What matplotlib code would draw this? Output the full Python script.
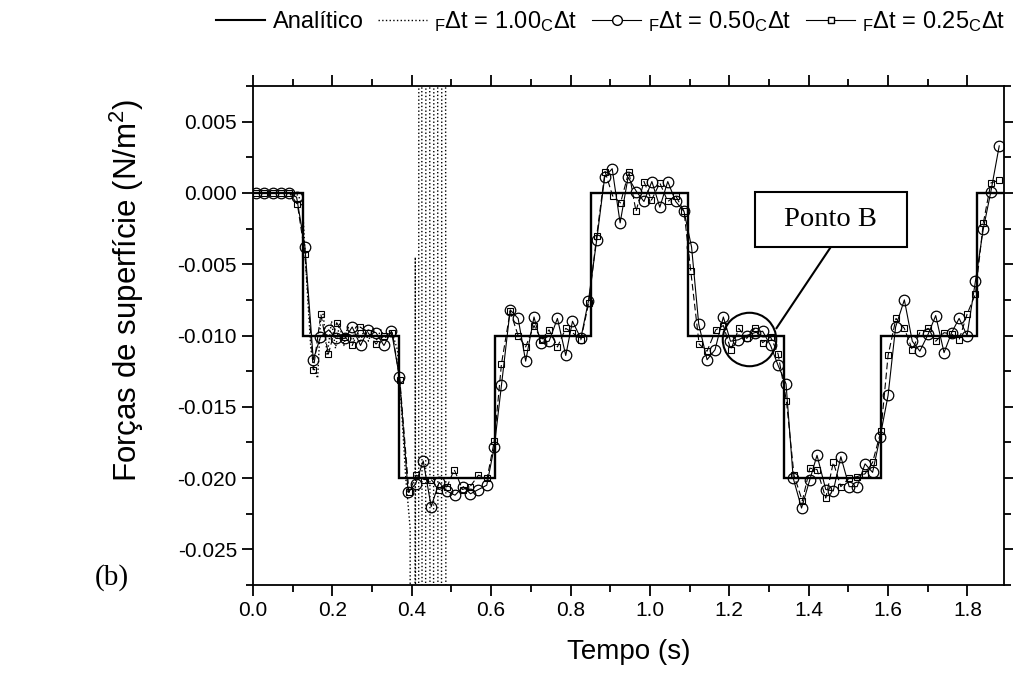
import numpy as np
import matplotlib
matplotlib.use("Agg")
import matplotlib.pyplot as plt
from matplotlib.lines import Line2D
from matplotlib.patches import Rectangle
from matplotlib.ticker import MultipleLocator, FuncFormatter

plt.rcParams["font.family"] = ["Liberation Sans", "DejaVu Sans"]
plt.rcParams["mathtext.fontset"] = "custom"
plt.rcParams["mathtext.rm"] = "Liberation Sans"
plt.rcParams["mathtext.it"] = "Liberation Sans:italic"
plt.rcParams["mathtext.default"] = "regular"

# analytic solution: piecewise constant (N/m2)
STEP_EDGES = [0.0, 0.125, 0.368, 0.610, 0.852, 1.097, 1.338, 1.582, 1.825, 1.892]
STEP_LEVELS = [0.0, -0.010, -0.020, -0.010, 0.0, -0.010, -0.020, -0.010, 0.0]

# F_dt = 1.00 C_dt (unstable), values in 1e-3 N/m2
T_100 = [0.000, 0.021, 0.042, 0.063, 0.083, 0.104, 0.115, 0.125, 0.135, 0.146,
         0.156, 0.163, 0.170, 0.177, 0.187, 0.198, 0.208, 0.218, 0.229, 0.239,
         0.250, 0.260, 0.270, 0.281, 0.291, 0.302, 0.312, 0.322, 0.333, 0.343,
         0.354, 0.364, 0.374, 0.385, 0.396, 0.403, 0.409, 0.415, 0.4205, 0.4305,
         0.4405, 0.4505, 0.4605, 0.4705, 0.4805, 0.4905]
F_100 = [0.0, 0.0, 0.0, 0.0, 0.0, 0.0, -0.2, -1.0, -6.0, -11.0,
         -12.5, -13.0, -9.0, -8.5, -11.4, -9.0, -10.9, -9.2, -10.7, -9.3,
         -10.6, -9.3, -10.5, -9.5, -10.4, -9.5, -10.3, -9.6, -10.2, -9.7,
         -10.1, -11.0, -15.0, -20.0, -23.5, -300.0, -4.5, -300.0, 300.0, -300.0,
         300.0, -300.0, 300.0, -300.0, 300.0, -300.0]

# F_dt = 0.50 C_dt (circles)
T_050 = [0.008, 0.029, 0.050, 0.071, 0.092, 0.110, 0.131, 0.152, 0.170, 0.191,
         0.209, 0.232, 0.250, 0.271, 0.290, 0.310, 0.330, 0.349, 0.369, 0.391,
         0.410, 0.429, 0.449, 0.469, 0.488, 0.509, 0.530, 0.548, 0.568, 0.589,
         0.608, 0.626, 0.648, 0.668, 0.687, 0.708, 0.725, 0.746, 0.767, 0.788,
         0.805, 0.826, 0.845, 0.866, 0.886, 0.905, 0.925, 0.945, 0.966, 0.985,
         1.005, 1.025, 1.045, 1.065, 1.086, 1.105, 1.123, 1.144, 1.164, 1.185,
         1.203, 1.223, 1.244, 1.264, 1.284, 1.304, 1.323, 1.343, 1.361, 1.382,
         1.403, 1.421, 1.443, 1.462, 1.481, 1.502, 1.522, 1.542, 1.561, 1.580,
         1.600, 1.619, 1.641, 1.661, 1.680, 1.701, 1.720, 1.741, 1.760, 1.779,
         1.799, 1.820, 1.840, 1.859, 1.880]
F_050 = [0.0, 0.0, 0.0, 0.0, 0.0, -0.3, -3.8, -11.7, -10.1, -9.6,
         -10.2, -10.2, -9.4, -10.7, -9.6, -9.8, -10.7, -9.7, -12.9, -21.0,
         -20.4, -18.8, -22.0, -20.3, -20.9, -21.2, -20.6, -21.1, -20.8, -20.5,
         -17.8, -13.5, -8.2, -8.8, -11.8, -8.7, -10.5, -10.4, -8.8, -11.4,
         -9.0, -10.2, -7.6, -3.3, 1.1, 1.7, -2.1, 1.1, 0.1, -0.6,
         0.8, -1.0, 0.8, -0.6, -1.3, -3.8, -9.2, -11.7, -11.0, -8.7,
         -10.4, -10.3, -10.0, -9.8, -9.7, -10.7, -12.1, -13.4, -20.0, -22.1,
         -20.1, -18.4, -20.8, -20.9, -18.5, -20.6, -20.6, -19.0, -19.6, -17.1,
         -14.2, -9.4, -7.5, -10.4, -11.1, -9.9, -8.6, -11.2, -9.8, -8.8,
         -10.0, -6.2, -2.5, 0.1, 3.3]

# F_dt = 0.25 C_dt (squares)
T_025 = [0.008, 0.029, 0.050, 0.071, 0.092, 0.112, 0.131, 0.152, 0.171, 0.190,
         0.211, 0.232, 0.250, 0.270, 0.290, 0.310, 0.330, 0.351, 0.370, 0.393,
         0.412, 0.431, 0.449, 0.469, 0.489, 0.507, 0.528, 0.547, 0.568, 0.590,
         0.608, 0.626, 0.648, 0.668, 0.687, 0.708, 0.727, 0.746, 0.767, 0.788,
         0.805, 0.826, 0.846, 0.866, 0.887, 0.906, 0.926, 0.947, 0.965, 0.985,
         1.004, 1.025, 1.045, 1.065, 1.086, 1.103, 1.124, 1.144, 1.166, 1.185,
         1.204, 1.224, 1.244, 1.264, 1.284, 1.304, 1.323, 1.344, 1.363, 1.384,
         1.403, 1.421, 1.443, 1.462, 1.481, 1.502, 1.522, 1.542, 1.561, 1.582,
         1.600, 1.620, 1.641, 1.661, 1.680, 1.701, 1.720, 1.741, 1.760, 1.779,
         1.799, 1.820, 1.840, 1.859, 1.880]
F_025 = [0.0, 0.0, 0.0, 0.0, 0.0, -0.8, -4.3, -12.4, -8.5, -11.3,
         -9.1, -10.1, -10.7, -9.4, -9.8, -10.6, -10.0, -9.8, -13.1, -21.0,
         -19.8, -20.1, -20.1, -20.8, -20.6, -19.4, -20.8, -20.6, -19.8, -20.0,
         -17.4, -12.0, -8.3, -10.0, -10.8, -9.3, -10.3, -9.6, -10.8, -9.5,
         -9.8, -10.3, -7.7, -3.0, 1.5, -0.2, -0.7, 1.5, -1.3, 0.8,
         -0.5, 0.7, -0.6, -0.2, -1.3, -5.5, -10.6, -11.1, -9.6, -9.3,
         -11.0, -9.5, -10.2, -9.5, -10.5, -10.1, -11.3, -14.6, -19.8, -21.6,
         -19.3, -19.4, -21.4, -18.9, -20.6, -20.0, -19.9, -19.7, -18.9, -16.7,
         -11.4, -8.8, -9.5, -11.0, -9.8, -9.5, -10.4, -9.8, -9.9, -10.3,
         -8.5, -7.1, -2.1, 0.7, 0.9]

LABELS = ["Analítico",
          "${}_{F}$Δt = 1.00${}_{C}$Δt",
          "${}_{F}$Δt = 0.50${}_{C}$Δt",
          "${}_{F}$Δt = 0.25${}_{C}$Δt"]


def fmt_y(v, pos):
    s = f"{v:.3f}"
    return "0.000" if s == "-0.000" else s


fig = plt.figure(figsize=(10.13, 6.74), dpi=100)
ax = fig.add_axes([0.2497, 0.1320, 0.7414, 0.7404])

ax.plot(T_100, np.array(F_100) * 1e-3, ls=":", color="k", lw=1.0, zorder=1)
ax.plot(T_025, np.array(F_025) * 1e-3, ls=(0, (6, 3)), color="k", lw=0.8,
        marker="s", ms=4.2, mfc="none", mec="k", mew=0.8, zorder=2)
ax.plot(T_050, np.array(F_050) * 1e-3, ls="-", color="k", lw=0.8,
        marker="o", ms=7.6, mfc="none", mec="k", mew=0.9, zorder=3)
ax.stairs(STEP_LEVELS, STEP_EDGES, baseline=None, color="k", lw=1.7, zorder=4)

# "Ponto B" callout
ax.plot([1.249], [-0.01025], marker="o", ms=38.5, mfc="none", mec="k", mew=1.5,
        zorder=5)
ax.plot([1.456, 1.319], [-0.00378, -0.00948], color="k", lw=1.5, zorder=5)
ax.add_patch(Rectangle((1.2645, -0.00378), 0.3825, 0.00388, fc="white",
                       ec="k", lw=1.5, zorder=6))
ax.text(1.456, -0.00184, "Ponto B", family="Liberation Serif", fontsize=20.5,
        ha="center", va="center", zorder=7)

ax.set_xlim(0, 1.892)
ax.set_ylim(-0.0275, 0.0075)
ax.xaxis.set_major_locator(MultipleLocator(0.2))
ax.xaxis.set_minor_locator(MultipleLocator(0.1))
ax.yaxis.set_major_locator(MultipleLocator(0.005))
ax.yaxis.set_minor_locator(MultipleLocator(0.0025))
ax.xaxis.set_major_formatter(FuncFormatter(lambda v, p: f"{v:.1f}"))
ax.yaxis.set_major_formatter(FuncFormatter(fmt_y))
ax.tick_params(which="both", direction="out", top=True, right=True, width=1.3,
               labelsize=15)
ax.tick_params(which="major", length=8)
ax.tick_params(which="minor", length=5)
for s in ax.spines.values():
    s.set_linewidth(1.3)

ax.set_xlabel("Tempo (s)", fontsize=20)
ax.xaxis.set_label_coords(0.5, -0.108)
ax.set_ylabel("Forças de superfície (N/m$^2$)", fontsize=22.5)
ax.yaxis.set_label_coords(-0.142, 0.59)

handles = [
    Line2D([], [], color="k", lw=1.5),
    Line2D([], [], color="k", lw=1.0, ls=":"),
    Line2D([], [], color="k", lw=0.8, marker="o", ms=7, mfc="white", mec="k"),
    Line2D([], [], color="k", lw=0.8, marker="s", ms=4.2, mfc="white", mec="k"),
]
fig.legend(handles, LABELS, loc="center", bbox_to_anchor=(0.603, 0.968),
           ncol=4, frameon=False, fontsize=17, handlelength=2.1,
           handletextpad=0.3, columnspacing=0.6)

fig.text(0.1105, 0.1424, "(b)", family="Liberation Serif", fontsize=21,
         ha="center", va="center")

fig.savefig("out.png", dpi=100)
